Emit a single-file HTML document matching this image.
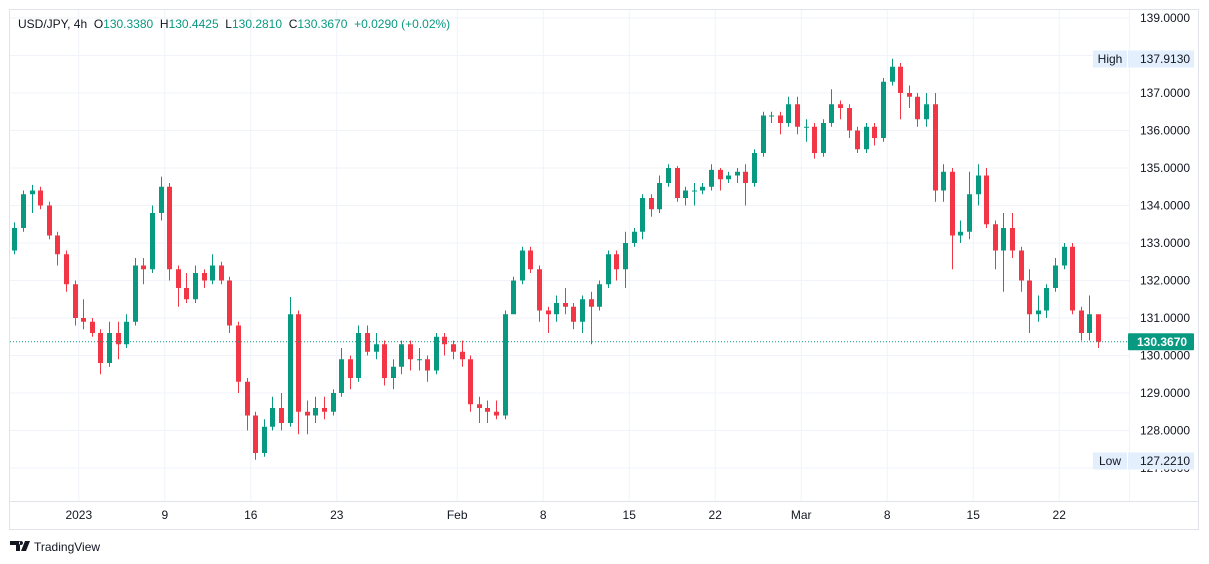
<!DOCTYPE html>
<html><head><meta charset="utf-8">
<style>
body{margin:0;background:#fff;font-family:"Liberation Sans",sans-serif;}
#wrap{position:relative;width:1209px;height:564px;overflow:hidden;}
svg text{font-family:"Liberation Sans",sans-serif;}
</style></head>
<body>
<div id="wrap">
<svg id="chart" width="1209" height="564"></svg>
</div>
<script>
const closes=[133.4,134.3,134.4,134.0,133.2,132.7,131.9,131.0,130.9,130.6,129.8,130.6,130.3,130.9,132.4,132.3,133.8,134.5,132.3,131.8,131.5,132.2,132.0,132.4,132.0,130.8,129.3,128.4,127.4,128.1,128.6,128.2,131.1,128.5,128.4,128.6,128.5,129.0,129.9,129.4,130.6,130.1,130.3,129.4,129.7,130.3,129.9,129.9,129.6,130.5,130.3,130.1,129.9,128.7,128.6,128.5,128.4,131.1,132.0,132.8,132.3,131.2,131.1,131.4,131.3,130.9,131.5,131.3,131.9,132.7,132.3,133.0,133.3,134.2,133.9,134.6,135.0,134.2,134.4,134.4,134.5,134.95,134.7,134.8,134.9,134.6,135.4,136.4,136.4,136.2,136.7,136.1,136.1,135.4,136.2,136.7,136.6,136.0,135.5,136.1,135.8,137.3,137.7,137.0,136.9,136.3,136.7,134.4,134.9,133.2,133.3,134.3,134.8,133.5,132.8,133.4,132.8,132.0,131.1,131.2,131.8,132.4,132.9,131.2,130.6,131.1,130.367];
const highs=[133.55,134.4,134.55,134.5,134.1,133.3,132.8,132.0,131.5,131.0,130.7,130.9,130.9,131.1,132.6,132.6,134.0,134.77,134.6,132.4,132.2,132.4,132.3,132.7,132.5,132.1,130.9,129.4,128.5,128.3,128.9,129.0,131.56,131.2,128.8,128.9,128.9,129.1,130.2,130.0,130.8,130.8,130.6,130.4,129.9,130.4,130.4,130.2,130.0,130.6,130.6,130.4,130.4,130.0,128.9,128.8,128.8,131.2,132.1,132.9,132.9,132.4,131.3,131.6,131.8,131.4,131.6,131.7,132.0,132.8,132.8,133.3,133.4,134.3,134.3,134.8,135.1,135.05,134.5,134.6,134.6,135.1,135.0,134.9,135.0,135.1,135.5,136.5,136.5,136.5,136.9,136.9,136.3,136.2,136.3,137.1,136.8,136.7,136.1,136.2,136.2,137.4,137.913,137.8,137.2,137.0,137.0,137.0,135.1,135.0,133.6,134.9,135.1,135.0,133.6,133.8,133.8,132.9,132.3,131.6,131.9,132.6,133.0,133.0,131.3,131.6,131.1];
const lows=[132.7,133.3,133.8,133.9,133.1,132.4,131.7,130.8,130.7,130.5,129.5,129.7,129.9,130.2,130.8,131.9,132.2,133.6,132.0,131.3,131.4,131.4,131.8,131.9,131.9,130.6,129.0,128.0,127.221,127.3,128.0,128.0,128.1,127.9,127.9,128.2,128.3,128.4,128.9,129.1,129.3,130.0,129.9,129.2,129.1,129.5,129.6,129.6,129.3,129.5,130.0,129.9,129.7,128.5,128.2,128.2,128.3,128.3,131.5,131.9,132.2,130.9,130.6,130.9,131.1,130.7,130.6,130.3,131.2,131.8,132.0,131.8,132.9,133.1,133.7,133.8,134.5,134.1,134.0,134.0,134.3,134.4,134.4,134.6,134.6,134.0,134.5,135.3,136.2,135.9,136.1,135.9,135.7,135.25,135.3,136.1,136.3,135.8,135.4,135.4,135.6,135.7,137.2,136.3,136.6,136.1,136.1,134.1,134.1,132.3,133.0,133.1,134.0,133.4,132.3,131.7,132.6,131.7,130.6,130.9,131.0,131.7,132.3,131.1,130.4,130.4,130.2];
const firstOpen=132.8;
const priceTicks=[139,138,137,136,135,134,133,132,131,130,129,128,127];
const dateLabels=["2023","9","16","23","Feb","8","15","22","Mar","8","15","22"];
const dateDayIndex=[4,9,14,19,26,31,36,41,46,51,56,61];

const NS="http://www.w3.org/2000/svg";
const svg=document.getElementById('chart');
const X0=10,PLOT_R=1129,Y_TOP=10,Y_BOT=501;
const candleW=8.6;
function y(p){return 18+(139-p)*37.5;}
function xc(i){return X0+(i+0.5)*candleW;}
function xDay(d){return X0+d*17.2;}
function el(t,a,parent){const e=document.createElementNS(NS,t);for(const k in a)e.setAttribute(k,a[k]);(parent||svg).appendChild(e);return e;}

const frame=el('rect',{x:9.5,y:9.5,width:1189,height:520,fill:'none',stroke:'#e0e3eb'});



const grid=el('g',{});


priceTicks.forEach(p=>{el('line',{x1:X0,x2:PLOT_R,y1:y(p),y2:y(p),stroke:'#f0f3fa'},grid);});
dateDayIndex.forEach(d=>{el('line',{x1:xDay(d),x2:xDay(d),y1:Y_TOP,y2:Y_BOT,stroke:'#f0f3fa'},grid);});

el('line',{x1:X0,x2:1199,y1:Y_BOT+0.5,y2:Y_BOT+0.5,stroke:'#e0e3eb'});
el('line',{x1:PLOT_R+0.5,x2:PLOT_R+0.5,y1:Y_TOP,y2:Y_BOT,stroke:'#f0f3fa'});

const pa=el('g',{});


priceTicks.forEach(p=>{
  const t=el('text',{x:1140,y:y(p)+4,'font-size':'12',fill:'#131722'},pa);
  t.textContent=p.toFixed(4);
  
  
});
const ta=el('g',{});


dateLabels.forEach((s,k)=>{
  const t=el('text',{x:xDay(dateDayIndex[k]),y:519,'font-size':'12','text-anchor':'middle',fill:'#131722'},ta);
  t.textContent=s;
  
  
});

const cg=el('g',{});


let prev=firstOpen;
closes.forEach((c,i)=>{
  const o=prev;prev=c;
  const col=c>=o?'#089981':'#f23645';
  const g=el('g',{},cg);
  
  
  const cx=Math.round(xc(i))+0.5;
  el('line',{x1:cx,x2:cx,y1:y(highs[i]),y2:y(lows[i]),stroke:col},g);
  const top=y(Math.max(o,c)),h=Math.max(1,Math.abs(y(o)-y(c)));
  el('rect',{x:cx-2.5,y:top,width:5,height:h,fill:col},g);
});

const lp=closes[closes.length-1];
const pl=el('line',{x1:X0,x2:PLOT_R,y1:y(lp),y2:y(lp),stroke:'#089981','stroke-dasharray':'1,2'});


const lb=el('g',{});


el('rect',{x:1128,y:y(lp)-8.5,width:66,height:17,fill:'#089981',rx:1},lb);
const lt=el('text',{x:1137,y:y(lp)+4.5,'font-size':'12','font-weight':'bold',fill:'#fff'},lb);
lt.textContent=lp.toFixed(4);

function hl(name,label,val,yy){
  const g=el('g',{});
  
  
  el('rect',{x:1093,y:yy-8.5,width:34,height:17,fill:'#e3effd'},g);
  el('rect',{x:1128,y:yy-8.5,width:66,height:17,fill:'#e3effd'},g);
  const a=el('text',{x:1110,y:yy+4,'font-size':'12','text-anchor':'middle',fill:'#131722'},g);a.textContent=label;
  const b=el('text',{x:1140,y:yy+4,'font-size':'12',fill:'#131722'},g);b.textContent=val;
}
hl('high-label','High','137.9130',59);
hl('low-label','Low','127.2210',461);

const lg=el('text',{x:18,y:28,'font-size':'12',fill:'#131722'});


lg.innerHTML='USD/JPY, 4h  O<tspan fill="#089981">130.3380</tspan>  H<tspan fill="#089981">130.4425</tspan>  L<tspan fill="#089981">130.2810</tspan>  C<tspan fill="#089981">130.3670</tspan>  <tspan fill="#089981">+0.0290 (+0.02%)</tspan>';
lg.setAttribute('xml:space','preserve');
lg.style.whiteSpace='pre';

const logo=el('g',{});


el('path',{d:'M10 541h10v10h-4v-6h-6z M21 541a2 2 0 1 0 0.01 0 M25 541h5l-4 10h-5z',fill:'#131722'},logo);
const lt2=el('text',{x:34,y:551,'font-size':'12',fill:'#131722'},logo);lt2.textContent='TradingView';
</script>
</body></html>
